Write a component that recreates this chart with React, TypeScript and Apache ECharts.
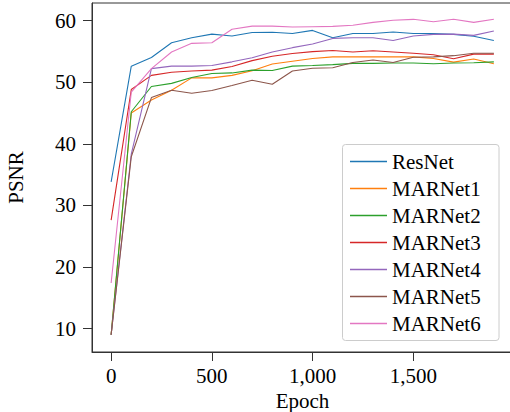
import React, { useEffect, useRef } from "react";
import * as echarts from "echarts";

const EPOCHS = [0, 100, 200, 300, 400, 500, 600, 700, 800, 900, 1000, 1100, 1200, 1300, 1400, 1500, 1600, 1700, 1800, 1900];
const SERIES_NAMES = ["ResNet", "MARNet1", "MARNet2", "MARNet3", "MARNet4", "MARNet5", "MARNet6"];
const COLORS = ["#1f77b4", "#ff7f0e", "#2ca02c", "#d62728", "#9467bd", "#8c564b", "#e377c2"];

const RESNET = [33.8, 52.6, 54.0, 56.4, 57.2, 57.8, 57.5, 58.05, 58.1, 57.9, 58.4, 57.2, 57.9, 57.9, 58.15, 57.9, 57.9, 57.75, 57.45, 56.75];
const MARNET1 = [9.0, 45.0, 47.1, 48.7, 50.7, 50.7, 51.1, 51.85, 52.95, 53.4, 53.85, 54.1, 54.1, 54.1, 54.1, 54.1, 53.85, 53.25, 53.75, 53.0];
const MARNET2 = [9.0, 45.2, 49.3, 49.8, 50.75, 51.4, 51.5, 51.95, 51.9, 52.6, 52.7, 52.85, 53.05, 53.05, 53.1, 53.1, 53.0, 53.1, 53.15, 53.3];
const MARNET3 = [27.6, 48.8, 51.1, 51.6, 51.8, 51.95, 52.55, 53.5, 54.2, 54.65, 54.95, 55.15, 54.9, 55.1, 54.9, 54.7, 54.45, 53.8, 54.55, 54.55];
const MARNET4 = [9.0, 38.3, 52.2, 52.6, 52.6, 52.7, 53.3, 53.95, 54.9, 55.6, 56.2, 57.1, 57.2, 57.2, 56.75, 57.5, 57.75, 57.8, 57.6, 58.3];
const MARNET5 = [9.0, 37.9, 47.5, 48.7, 48.2, 48.65, 49.45, 50.3, 49.65, 51.8, 52.25, 52.35, 53.2, 53.6, 53.2, 54.05, 54.1, 54.3, 54.7, 54.7];
const MARNET6 = [17.4, 48.4, 52.2, 54.9, 56.3, 56.4, 58.6, 59.1, 59.1, 58.95, 59.0, 59.05, 59.25, 59.7, 60.05, 60.2, 59.8, 60.2, 59.7, 60.2];

const X_TICKS = [0, 500, 1000, 1500];
const Y_TICKS = [10, 20, 30, 40, 50, 60];

const ALL_VALUES = [RESNET, MARNET1, MARNET2, MARNET3, MARNET4, MARNET5, MARNET6];

const FONT = "'Liberation Serif', 'Times New Roman', serif";

export default function App() {
  const ref = useRef<HTMLDivElement>(null);

  useEffect(() => {
    if (!ref.current) return;
    const chart = echarts.init(ref.current, undefined, { renderer: "svg" });
    const axisColor = "#333";
    chart.setOption({
      animation: false,
      backgroundColor: "#fff",
      grid: {
        left: 92,
        top: 3,
        right: -3,
        bottom: 60,
        containLabel: false,
        outerBoundsMode: "none",
        show: true,
        borderColor: axisColor,
        borderWidth: 1,
        backgroundColor: "transparent",
      },
      xAxis: {
        type: "value",
        min: -95,
        max: 1995,
        name: "Epoch",
        nameLocation: "middle",
        nameGap: 35,
        nameTextStyle: { fontFamily: FONT, fontSize: 21, color: "#000" },
        axisLine: { show: true, onZero: false, lineStyle: { color: axisColor, width: 1 } },
        axisTick: { show: true, length: 9, customValues: X_TICKS, lineStyle: { color: axisColor } },
        axisLabel: {
          customValues: X_TICKS,
          margin: 13,
          fontFamily: FONT,
          fontSize: 21,
          color: "#000",
          formatter: (v: number) => v.toLocaleString("en-US"),
        },
        splitLine: { show: false },
      },
      yAxis: {
        type: "value",
        min: 6.2,
        max: 62.85,
        name: "PSNR",
        nameLocation: "middle",
        nameGap: 66,
        nameRotate: 90,
        nameTextStyle: { fontFamily: FONT, fontSize: 21, color: "#000" },
        axisLine: { show: true, onZero: false, lineStyle: { color: axisColor, width: 1 } },
        axisTick: { show: true, length: 9, customValues: Y_TICKS, lineStyle: { color: axisColor } },
        axisLabel: {
          customValues: Y_TICKS,
          margin: 16,
          fontFamily: FONT,
          fontSize: 21,
          color: "#000",
        },
        splitLine: { show: false },
      },
      legend: {
        orient: "vertical",
        left: 350,
        top: 151,
        padding: 0,
        icon: "rect",
        itemWidth: 37,
        itemHeight: 1.5,
        itemGap: 6,
        textStyle: { fontFamily: FONT, fontSize: 21, color: "#000", lineHeight: 21, padding: [0, 0, 0, 0] },
        data: SERIES_NAMES,
      },
      graphic: [
        {
          type: "rect",
          z: 0,
          shape: { x: 342.5, y: 144.5, width: 156.5, height: 196, r: 3 },
          style: { fill: "rgba(255,255,255,0.8)", stroke: "#cccccc", lineWidth: 1 },
        },
      ],
      series: SERIES_NAMES.map((name, i) => ({
        name,
        type: "line",
        symbol: "none",
        showSymbol: false,
        color: COLORS[i],
        lineStyle: { width: 1.1, color: COLORS[i] },
        data: EPOCHS.map((e, j) => [e, ALL_VALUES[i][j]]),
        z: 2,
      })),
    });
    return () => chart.dispose();
  }, []);

  return (
    <div
      ref={ref}
      style={{ position: "fixed", left: 0, top: 0, width: 510, height: 412 }}
    />
  );
}
